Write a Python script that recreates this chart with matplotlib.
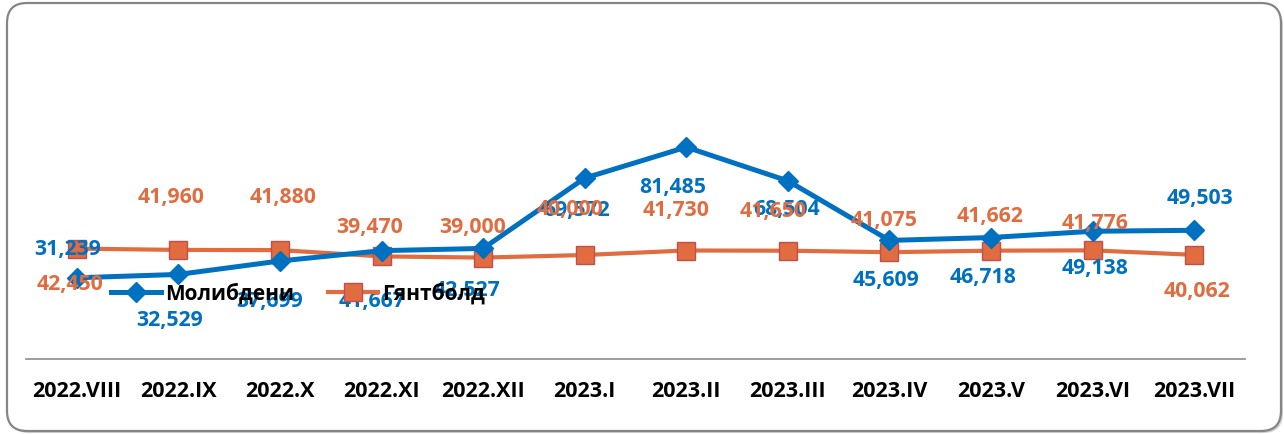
import matplotlib
matplotlib.use("Agg")
import matplotlib.pyplot as plt
from matplotlib.patches import FancyBboxPatch
from matplotlib.lines import Line2D

plt.rcParams['font.family'] = ['Open Sans', 'Noto Sans', 'DejaVu Sans']

categories = ["2022.VIII", "2022.IX", "2022.X", "2022.XI", "2022.XII", "2023.I",
              "2023.II", "2023.III", "2023.IV", "2023.V", "2023.VI", "2023.VII"]
molybdenum = [31239, 32529, 37699, 41667, 42527, 69572, 81485, 68504, 45609, 46718, 49138, 49503]
concentrate = [42450, 41960, 41880, 39470, 39000, 40000, 41730, 41650, 41075, 41662, 41776, 40062]
series_names = ["Молибдени", "Гянтболд"]

# label offsets (pixels) relative to each point
blue_off = [(-9, 28), (-9, -46), (-10, -41), (-9, -51), (-16, -42), (-8, -32),
            (-14, -40), (-1, -29), (-3, -40), (-8, -40), (2, -37), (6, 32)]
orange_off = [(-7, -36), (-7, 52), (3, 53), (-12, 29), (-10, 30), (-15, 45),
              (-10, 40), (-15, 39), (-5, 32), (-1, 34), (2, 27), (3, -37)]

BLUE = "#0070C0"
ORANGE = "#E06C40"
OEDGE = "#C0504D"

W, H = 1284, 434
fig = plt.figure(figsize=(W / 100, H / 100), dpi=100)

# rounded frame with shadow
shadow = FancyBboxPatch((9 / W, 1 / H), 1274 / W, 427 / H,
                        boxstyle="round,pad=0,rounding_size=%f" % (20 / W),
                        transform=fig.transFigure, facecolor="#d0d0d0",
                        edgecolor="none", mutation_aspect=W / H, zorder=-2)
frame = FancyBboxPatch((7 / W, 3 / H), 1274 / W, 428 / H,
                       boxstyle="round,pad=0,rounding_size=%f" % (20 / W),
                       transform=fig.transFigure, facecolor="white",
                       edgecolor="#858585", linewidth=1.6, mutation_aspect=W / H, zorder=-1)
fig.patches.extend([shadow, frame])

ax = fig.add_axes([26 / W, (H - 359) / H, 1219 / W, 312 / H])
ax.set_zorder(2)
ax.set_facecolor("none")
x = list(range(len(categories)))
ax.plot(x, molybdenum, color=BLUE, lw=3.6, marker="D", ms=10,
        mfc=BLUE, mec=BLUE, zorder=3)
ax.plot(x, concentrate, color=ORANGE, lw=3.0, marker="s", ms=13,
        mfc=ORANGE, mec=OEDGE, mew=1.0, zorder=2)

ax.set_xlim(-0.5, len(categories) - 0.5)
ax.set_ylim(0, 120000)
ax.set_yticks([])
ax.set_xticks(x)
ax.set_xticklabels(categories, fontsize=15.5, fontweight="bold", color="black")
ax.tick_params(axis="x", length=0, pad=16)
for s in ["top", "right", "left"]:
    ax.spines[s].set_visible(False)
ax.spines["bottom"].set_color("#8c8c8c")
ax.spines["bottom"].set_linewidth(1.2)

for i, v in enumerate(molybdenum):
    ax.annotate(f"{v:,}", (i, v), xytext=blue_off[i], textcoords="offset pixels",
                ha="center", va="center", fontsize=15.3, fontweight="bold",
                color=BLUE, zorder=5)
for i, v in enumerate(concentrate):
    ax.annotate(f"{v:,}", (i, v), xytext=orange_off[i], textcoords="offset pixels",
                ha="center", va="center", fontsize=15.3, fontweight="bold",
                color=ORANGE, zorder=6)

handles = [Line2D([], [], color=BLUE, lw=3.6, marker="D", ms=10, mfc=BLUE, mec=BLUE),
           Line2D([], [], color=ORANGE, lw=3.0, marker="s", ms=13, mfc=ORANGE,
                  mec=OEDGE, mew=1.0)]
leg = ax.legend(handles, series_names, loc="center left", bbox_to_anchor=(0.07, 0.21),
                ncol=2, frameon=False, borderaxespad=0, borderpad=0,
                handlelength=2.4, handletextpad=0.2, columnspacing=1.6,
                prop={"size": 15, "weight": "bold"})
for t in leg.get_texts():
    t.set_color("black")
leg.set_zorder(7)

fig.savefig("out.png", dpi=100)
